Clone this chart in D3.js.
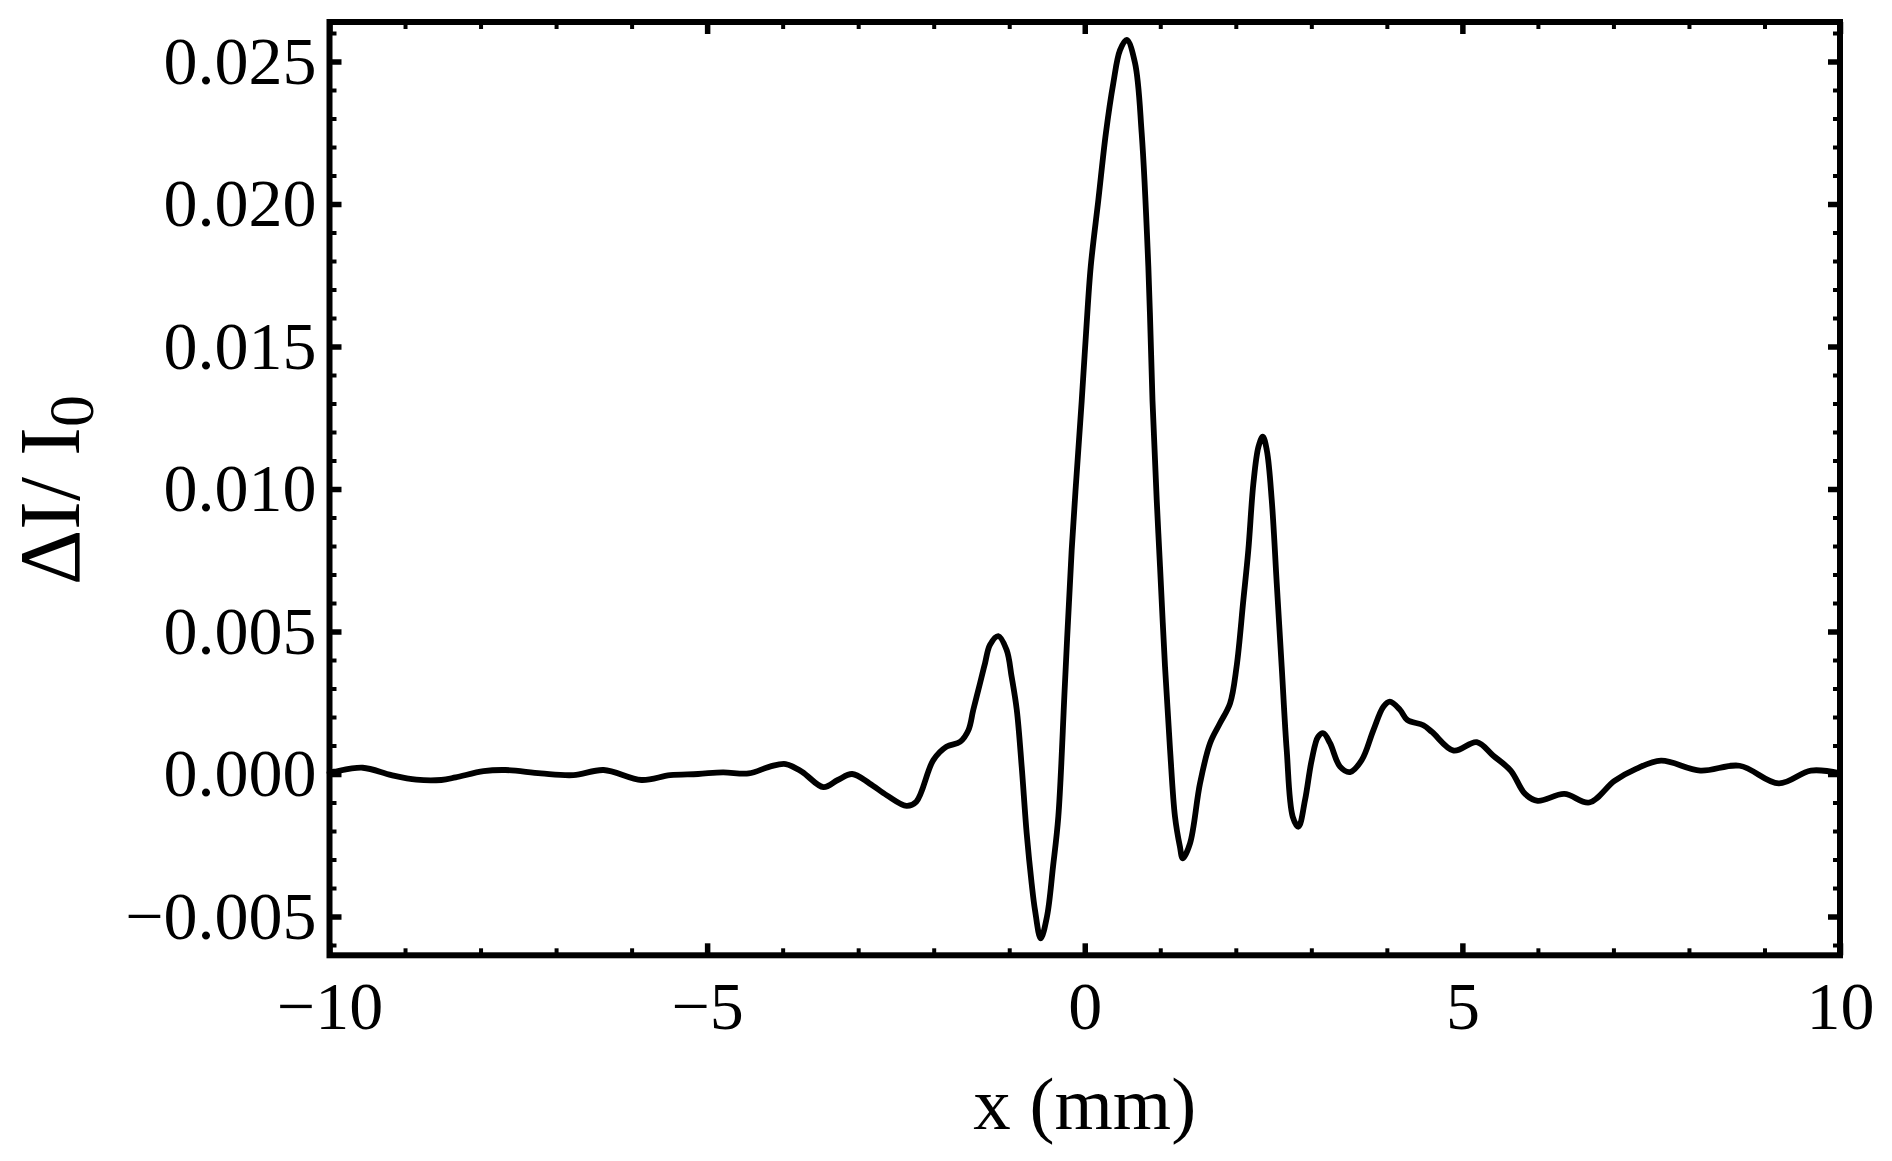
<!DOCTYPE html>
<html>
<head>
<meta charset="utf-8">
<script src="https://cdn.jsdelivr.net/npm/d3@7"></script>
<style>
  html, body { margin: 0; padding: 0; background: #fff; }
  svg { display: block; }
</style>
</head>
<body>
<svg id="chart" width="1892" height="1161"></svg>
<script>
// ---- data (x in mm, ΔI/I0) ----
const xValues = [
  -10.0, -9.94, -9.56, -9.18, -8.85, -8.52, -8.33, -7.96, -7.67, -7.20,
  -6.77, -6.37, -5.87, -5.49, -5.12, -4.79, -4.45, -4.17, -3.96, -3.745,
  -3.46, -3.27, -3.08, -2.85, -2.62, -2.36, -2.23, -2.005, -1.83, -1.65,
  -1.54, -1.476, -1.387, -1.321, -1.255, -1.145, -1.034, -0.968, -0.90, -0.835,
  -0.769, -0.703, -0.659, -0.583, -0.50, -0.42, -0.35, -0.262, -0.173, -0.04,
  0.017, 0.079, 0.18, 0.28, 0.378, 0.467, 0.556, 0.666, 0.754, 0.842,
  0.897, 0.953, 0.997, 1.063, 1.13, 1.195, 1.26, 1.297, 1.394, 1.526,
  1.659, 1.79, 1.924, 2.01, 2.10, 2.166, 2.233, 2.30, 2.357, 2.41,
  2.476, 2.542, 2.608, 2.674, 2.754, 2.83, 2.917, 3.005, 3.09, 3.16,
  3.248, 3.38, 3.513, 3.668, 3.822, 3.954, 4.04, 4.175, 4.27, 4.483,
  4.6, 4.885, 5.19, 5.406, 5.64, 5.83, 5.997, 6.35, 6.68, 7.014,
  7.30, 7.63, 8.15, 8.67, 9.19, 9.615, 10.0
];
const dIValues = [
  0.00005, 0.00008, 0.00022, -0.00004, -0.00020, -0.00021, -0.00012, 0.00010, 0.00014, 0.00002,
  -0.00004, 0.00014, -0.00021, -0.00004, 0.00000, 0.00006, 0.00002, 0.00026, 0.00035, 0.00008,
  -0.00046, -0.00021, 0.00000, -0.00033, -0.00075, -0.00112, -0.00097, 0.00049, 0.00096, 0.00113,
  0.00154, 0.00225, 0.00318, 0.00388, 0.00453, 0.00484, 0.00435, 0.00341, 0.00225, 0.00026,
  -0.00208, -0.00384, -0.00477, -0.00577, -0.00500, -0.00325, -0.00150, 0.00318, 0.00786, 0.01310,
  0.01546, 0.01780, 0.02014, 0.02249, 0.02424, 0.02540, 0.02576, 0.02494, 0.02248, 0.01780,
  0.01310, 0.00961, 0.00727, 0.00376, 0.00084, -0.00150, -0.00255, -0.00296, -0.00243, -0.00033,
  0.00108, 0.00178, 0.00248, 0.00376, 0.00610, 0.00786, 0.01020, 0.01148, 0.01184, 0.01137,
  0.00961, 0.00669, 0.00376, 0.00084, -0.00150, -0.00185, -0.00091, 0.00049, 0.00131, 0.00143,
  0.00108, 0.00026, 0.00007, 0.00049, 0.00154, 0.00236, 0.00254, 0.00225, 0.00190, 0.00171,
  0.00147, 0.00082, 0.00112, 0.00065, 0.00012, -0.00070, -0.00094, -0.00070, -0.00100, -0.00024,
  0.00018, 0.00047, 0.00012, 0.00029, -0.00033, 0.00012, 0.00002
];

// ---- axes / ticks ----
const xDomain = [-10, 10];
const yDomain = [-0.006361, 0.026386];
const xMajorTicks = [-10, -5, 0, 5, 10];
const yMajorTicks = [-0.005, 0.000, 0.005, 0.010, 0.015, 0.020, 0.025];
const xTickLabels = ["\u221210", "\u22125", "0", "5", "10"];
const yTickLabels = ["\u22120.005", "0.000", "0.005", "0.010", "0.015", "0.020", "0.025"];
const xMinorTicks = d3.range(-10, 10.001, 1).filter(v => Math.abs(v % 5) > 1e-9);
const yMinorTicks = d3.range(-6, 27, 1).map(v => v / 1000).filter(v => Math.abs(Math.round(v * 1000) % 5) !== 0);
const xAxisTitle = "x (mm)";

// ---- layout ----
const L = 329.5, R = 1840, T = 22, B = 955.3;
const svg = d3.select("#chart");
svg.append("rect").attr("width", 1892).attr("height", 1161).attr("fill", "#fff");

const x = d3.scaleLinear().domain(xDomain).range([L, R]);
const y = d3.scaleLinear().domain(yDomain).range([B, T]);

const tickFont = "'Liberation Serif', 'Times New Roman', serif";
const majorLen = 12, minorLen = 7;

function styleAxis(g, width) {
  g.select(".domain").remove();
  g.selectAll(".tick line").attr("stroke", "#000").attr("stroke-width", width);
}

// bottom major with labels
const gxb = svg.append("g").attr("transform", `translate(0,${B})`)
  .call(d3.axisBottom(x).tickValues(xMajorTicks)
    .tickSizeInner(-majorLen).tickSizeOuter(0).tickPadding(25)
    .tickFormat((d, i) => xTickLabels[i]));
styleAxis(gxb, 5.5);
gxb.selectAll("text").attr("font-family", tickFont).attr("font-size", 68).attr("fill", "#000");

// bottom minor
const gxbm = svg.append("g").attr("transform", `translate(0,${B})`)
  .call(d3.axisBottom(x).tickValues(xMinorTicks).tickSizeInner(-minorLen).tickSizeOuter(0).tickFormat(""));
styleAxis(gxbm, 4);

// top major/minor
const gxt = svg.append("g").attr("transform", `translate(0,${T})`)
  .call(d3.axisTop(x).tickValues(xMajorTicks).tickSizeInner(-majorLen).tickSizeOuter(0).tickFormat(""));
styleAxis(gxt, 5.5);
const gxtm = svg.append("g").attr("transform", `translate(0,${T})`)
  .call(d3.axisTop(x).tickValues(xMinorTicks).tickSizeInner(-minorLen).tickSizeOuter(0).tickFormat(""));
styleAxis(gxtm, 4);

// left major with labels
const gyl = svg.append("g").attr("transform", `translate(${L},0)`)
  .call(d3.axisLeft(y).tickValues(yMajorTicks)
    .tickSizeInner(-majorLen).tickSizeOuter(0).tickPadding(13)
    .tickFormat((d, i) => yTickLabels[i]));
styleAxis(gyl, 5.5);
gyl.selectAll("text").attr("font-family", tickFont).attr("font-size", 68).attr("fill", "#000");

const gylm = svg.append("g").attr("transform", `translate(${L},0)`)
  .call(d3.axisLeft(y).tickValues(yMinorTicks).tickSizeInner(-minorLen).tickSizeOuter(0).tickFormat(""));
styleAxis(gylm, 4);

// right
const gyr = svg.append("g").attr("transform", `translate(${R},0)`)
  .call(d3.axisRight(y).tickValues(yMajorTicks).tickSizeInner(-majorLen).tickSizeOuter(0).tickFormat(""));
styleAxis(gyr, 5.5);
const gyrm = svg.append("g").attr("transform", `translate(${R},0)`)
  .call(d3.axisRight(y).tickValues(yMinorTicks).tickSizeInner(-minorLen).tickSizeOuter(0).tickFormat(""));
styleAxis(gyrm, 4);

// curve
const pts = xValues.map((v, i) => [v, dIValues[i]]);
const line = d3.line().x(d => x(d[0])).y(d => y(d[1])).curve(d3.curveCatmullRom.alpha(0.5));
svg.append("path").datum(pts).attr("d", line)
  .attr("fill", "none").attr("stroke", "#000").attr("stroke-width", 5.8)
  .attr("stroke-linejoin", "round").attr("stroke-linecap", "round");

// frame
svg.append("rect").attr("x", L).attr("y", T).attr("width", R - L).attr("height", B - T)
  .attr("fill", "none").attr("stroke", "#000").attr("stroke-width", 6);

// axis titles
svg.append("text").attr("x", (L + R) / 2).attr("y", 1129)
  .attr("text-anchor", "middle").attr("font-family", tickFont).attr("font-size", 75)
  .attr("fill", "#000").text(xAxisTitle);

const yt = svg.append("text").attr("transform", "translate(79,490) rotate(-90)")
  .attr("text-anchor", "middle").attr("font-family", tickFont).attr("font-size", 86).attr("fill", "#000");
yt.append("tspan").text("\u0394I/ I");
yt.append("tspan").attr("font-size", 64).attr("dy", 14).text("0");
</script>
</body>
</html>
